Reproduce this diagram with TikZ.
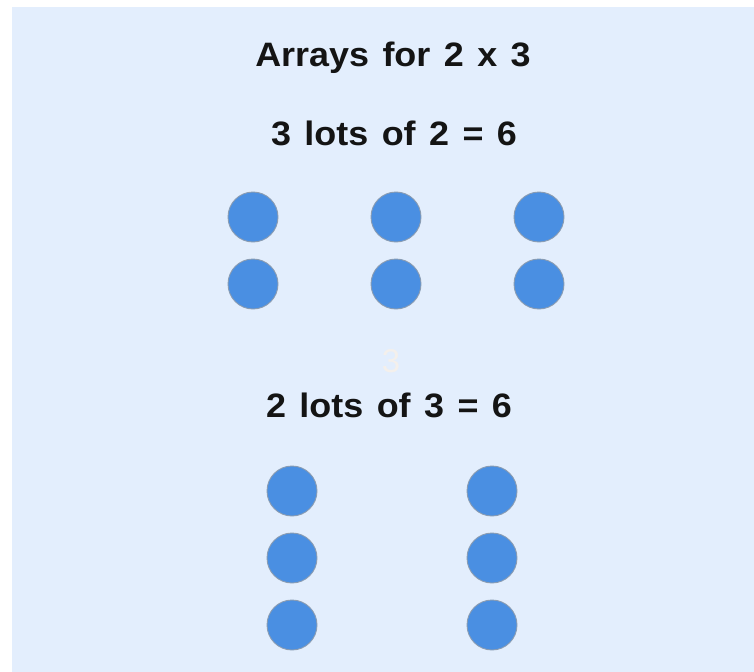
\documentclass[tikz,border=0pt]{standalone}
\usepackage{fontspec}
\setmainfont{Liberation Sans}
\newfontfamily\headfont[WordSpace=1.35,FakeStretch=1.06]{Liberation Sans}
\definecolor{bgblue}{HTML}{E3EEFD}
\definecolor{dotblue}{HTML}{4A8FE2}
\definecolor{dotrim}{HTML}{8A9CB2}
\definecolor{ghost}{HTML}{F4F0EC}
\definecolor{ink}{HTML}{141414}
\begin{document}
\begin{tikzpicture}[x=1bp,y=-1bp,
  dot/.style={circle,fill=dotblue,draw=dotrim,line width=0.9bp,minimum size=50bp,inner sep=0pt},
  heading/.style={anchor=base,inner sep=0pt,text=ink,font=\fontsize{34}{38}\selectfont\headfont\bfseries},
  faint/.style={anchor=base,inner sep=0pt,text=ghost,font=\fontsize{33}{38}\selectfont}]
\useasboundingbox (0,0) rectangle (754,672);
\fill[bgblue] (12,7) rectangle (754,672);
\node[heading] (title) at (393,67) {Arrays for 2 x 3};
\node[heading] (l1) at (394,146) {3 lots of 2 = 6};
\node[faint] (g3) at (391,372) {3};
\node[heading] (l2) at (389,417) {2 lots of 3 = 6};
% first array: 3 columns of 2
\foreach \c/\x in {1/253,2/396,3/539}{
  \node[dot] (a\c1) at (\x,217) {};
  \node[dot] (a\c2) at (\x,284) {};
}
% second array: 2 columns of 3
\foreach \c/\x in {1/292,2/492}{
  \node[dot] (b\c1) at (\x,491) {};
  \node[dot] (b\c2) at (\x,558) {};
  \node[dot] (b\c3) at (\x,625) {};
}
\end{tikzpicture}
\end{document}
